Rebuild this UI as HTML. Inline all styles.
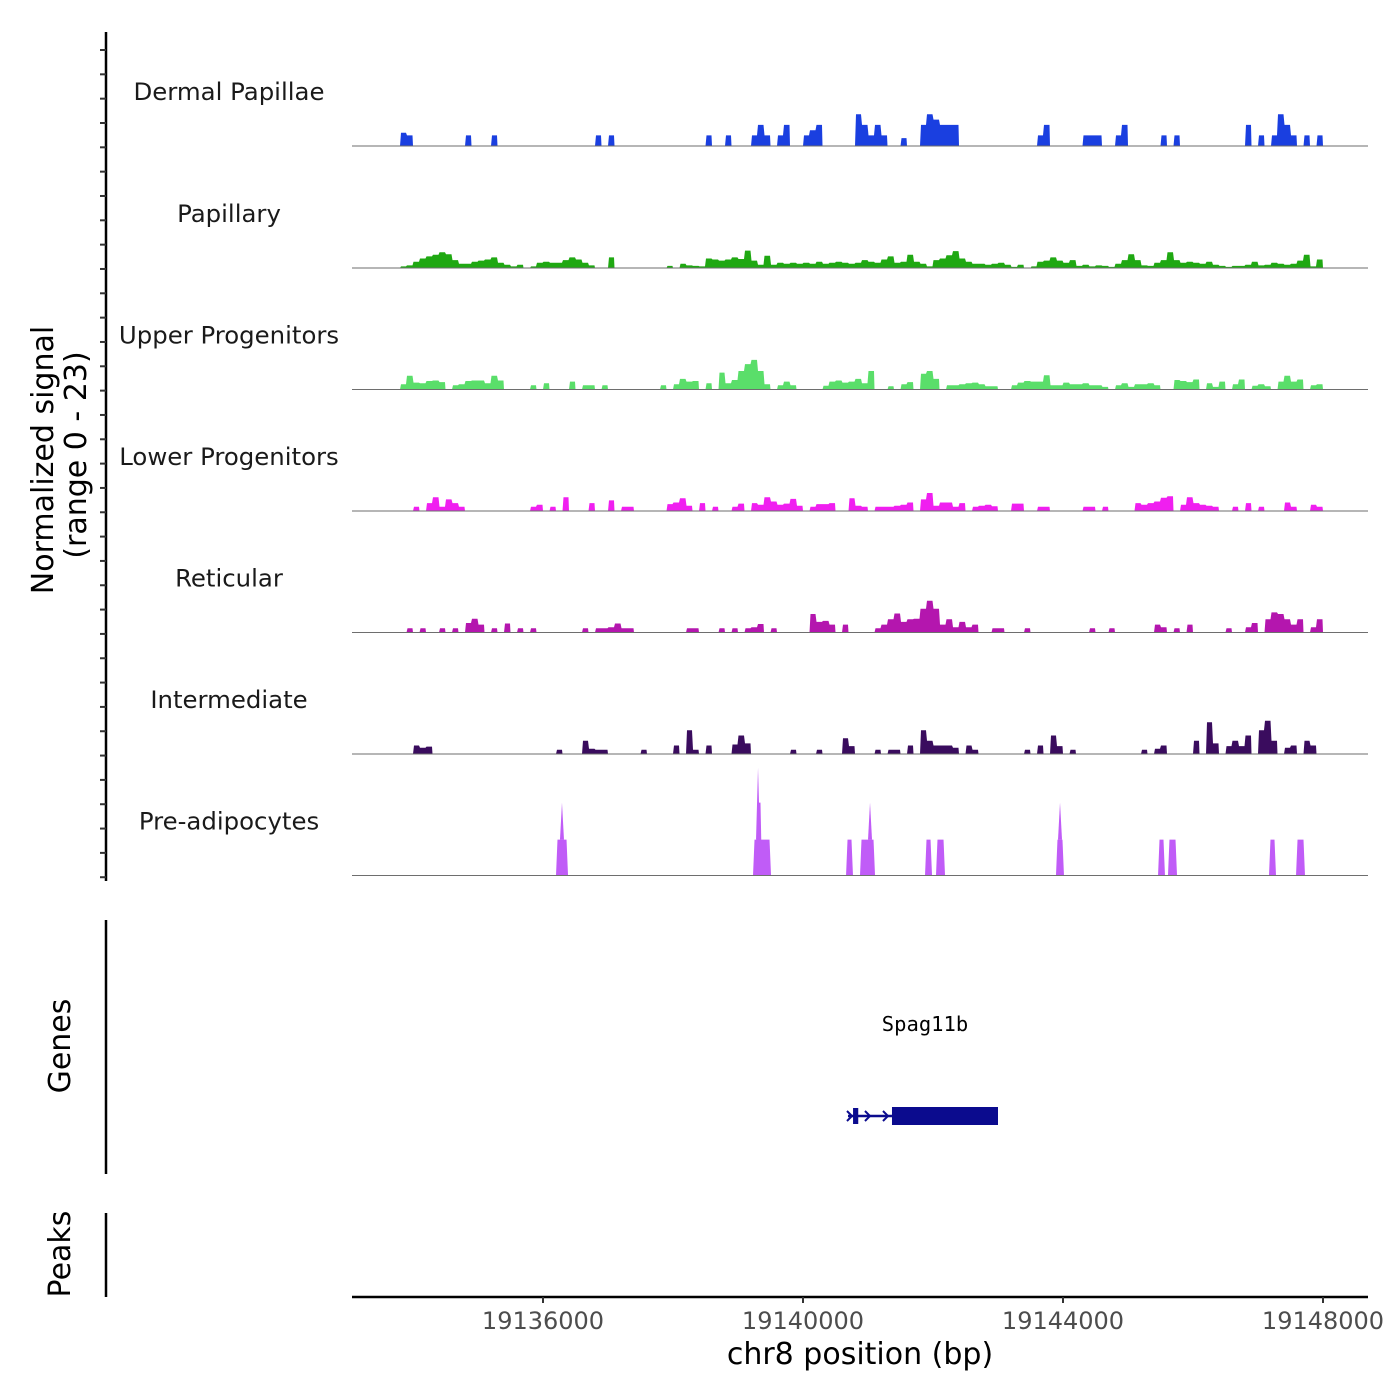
<!DOCTYPE html>
<html><head><meta charset="utf-8"><style>
html,body{margin:0;padding:0;background:#fff}
svg{display:block;font-family:"DejaVu Sans","Liberation Sans",sans-serif}
</style></head><body>
<svg id="chart" width="1400" height="1400" viewBox="0 0 1400 1400">
<g id="tracks"></g>
<g id="axes"></g>
</svg>
<script>
// ---- data ----
const trackNames = ["Dermal Papillae","Papillary","Upper Progenitors","Lower Progenitors","Reticular","Intermediate","Pre-adipocytes"];
const trackColors = ["#1a3fe0","#1fa812","#5ade6a","#f01ff0","#b416ae","#3a0c5e","#c05cf7"];
const binStart = 19133800;
const binSize = 100;
const xTicks = [19136000,19140000,19144000,19148000];
const yMax = 23;
const dermalPapillae = [2.5,2,0,0,0,0,0,0,0,0,2,0,0,0,2,0,0,0,0,0,0,0,0,0,0,0,0,0,0,0,2,0,2,0,0,0,0,0,0,0,0,0,0,0,0,0,0,2,0,0,2,0,0,0,2,4,2,0,2,4,0,0,2,3,4,0,0,0,0,0,6,4,2,4,2,0,0,1.5,0,0,4,6,5,4,4,4,0,0,0,0,0,0,0,0,0,0,0,0,2,4,0,0,0,0,0,2,2,2,0,0,2,4,0,0,0,0,0,2,0,2,0,0,0,0,0,0,0,0,0,0,4,0,2,0,2,6,4,2,0,2,0,2];
const papillary = [0.3,0.5,1.2,1.8,2.2,2.5,3.0,2.6,1.5,0.8,0.8,1.2,1.4,1.6,2.0,1.0,0.6,0.3,0.6,0,0.3,1.0,1.2,1.0,1.0,1.5,2.0,1.6,1.0,0.5,0,0,2.0,0,0,0,0,0,0,0,0,0.4,0,0.8,0.5,0.4,0.3,1.8,1.6,1.4,1.6,2.0,1.7,3.3,1.4,0.6,2.3,0.6,1.0,0.8,1.0,0.8,1.0,0.8,1.2,0.8,1.0,1.2,1.0,0.8,1.0,1.5,1.2,1.0,1.6,2.2,1.0,1.2,2.5,1.2,0.8,0.3,1.5,1.8,2.4,3.2,1.8,1.2,0.8,0.8,0.6,0.8,1.0,0.6,0.2,0.6,0,0.3,1.2,1.4,2.0,1.4,1.0,1.5,0.4,0.6,0.3,0.5,0.4,0.2,0.8,1.5,2.6,1.5,0.5,0.4,1.0,1.5,3.0,1.5,1.0,1.2,1.0,0.8,1.2,0.6,0.4,0.2,0.4,0.4,0.6,1.2,0.5,0.6,1.0,0.8,0.6,0.8,1.4,2.5,0.3,1.6];
const upperProgenitors = [1.0,2.6,1.3,1.2,1.6,1.7,1.4,0,0.8,1.0,1.6,1.7,1.7,1.2,2.6,1.7,0,0,0,0,0.8,0,1.2,0,0,0,1.5,0,0.8,0.8,0,0.8,0,0,0,0,0,0,0,0,0.8,0,1.0,2.0,1.5,1.6,0,1.2,0,3.2,1.2,1.8,3.5,4.8,5.6,3.5,1.0,0,0.8,1.5,0.8,0,0,0,0,0.7,1.5,1.7,1.3,1.5,2.0,1.2,3.5,0,0,0.6,0,1.0,1.4,0,3.0,3.5,2.0,0,0.8,0.8,1.0,1.2,1.3,1.0,0.6,0.6,0,0,0.8,1.3,1.6,1.5,1.5,2.7,0.8,0.8,1.3,1.0,1.0,1.2,0.8,0.8,0.5,0,0.8,1.2,0.5,1.0,1.0,1.2,0.8,0,0,1.8,1.6,1.4,1.9,0,1.2,0.5,1.5,0,1.0,1.9,0,0.7,1.0,0.6,0,1.5,2.6,1.5,1.9,0,0.8,1.0];
const lowerProgenitors = [0,0,0.8,0,1.5,2.6,0.8,2.2,1.5,0.8,0,0,0,0,0,0,0,0,0,0,0.8,1.2,0,0.8,0,2.6,0,0,0,1.5,0,0,2.0,0,0.8,0.8,0,0,0,0,0,1.3,1.6,2.4,1.0,0,1.5,0,0.8,0,0,0.8,1.4,0,1.5,1.2,2.6,1.8,1.2,1.4,2.3,1.0,0,0.8,1.3,1.3,1.5,0,0,2.4,1.0,0.8,0,0.8,0.8,0.8,1.0,1.2,1.6,0,2.2,3.4,1.0,1.6,1.6,0.8,1.5,0,0.8,1.0,1.2,0.9,0,0,1.4,1.4,0,0,0.8,0.8,0,0,0,0,0,0.8,0.8,0,0.8,0,0,0,0,1.5,1.2,1.5,1.8,2.5,2.8,0,1.2,2.6,1.5,1.2,1.0,0.8,0,0,0.8,0,1.5,0,0.8,0,0,0,1.6,0.8,0,0,1.2,0.8];
const reticular = [0,0.8,0,0.8,0,0,0.8,0,0.8,0,1.8,2.6,1.5,0,0.8,0,1.7,0,0.8,0,0.8,0,0,0,0,0,0,0,0.8,0,0.8,0.8,1.0,1.7,0.8,0.8,0,0,0,0,0,0,0,0,0.8,0.8,0,0,0,0.8,0,0.8,0,0.8,1.0,1.6,0,0.8,0,0,0,0,0,3.5,2.0,2.2,1.5,0,1.5,0,0,0,0,0.8,1.5,2.5,3.6,2.0,2.5,2.6,4.5,6.0,4.5,1.5,2.5,1.0,2.0,1.0,1.5,0,0,0.8,0.8,0,0,0,0.8,0,0,0,0,0,0,0,0,0,0.8,0,0,0.8,0,0,0,0,0,0,1.5,1.0,0,0.8,0,1.5,0,0,0,0,0,0.8,0,0,1.0,1.8,0,2.5,3.8,3.5,2.5,1.5,2.5,0,1.0,2.5];
const intermediate = [0,0,1.6,1.2,1.4,0,0,0,0,0,0,0,0,0,0,0,0,0,0,0,0,0,0,0,0.8,0,0,0,2.5,1.0,0.8,0.8,0,0,0,0,0,0.8,0,0,0,0,1.6,0,4.5,0.8,0,1.6,0,0,0,1.8,3.5,2.0,0,0,0,0,0,0,0.8,0,0,0,0.8,0,0,0,3.0,1.5,0,0,0,0.8,0,0.8,0.8,0,1.6,0,4.5,2.5,1.6,1.6,1.6,1.2,0,1.6,0.8,0,0,0,0,0,0,0,0.8,0,1.6,0,3.5,1.5,0,0.8,0,0,0,0,0,0,0,0,0,0,0.8,0,1.0,1.6,0,0,0,0,2.5,0,6.0,2.0,0,1.5,2.5,1.5,3.5,0,4.5,6.3,2.5,0,1.2,1.6,0,2.5,1.6,0];
const preAdipStart = [19136200,19139231,19139277,19140662,19140877,19141877,19142046,19143892,19145462,19145615,19147169,19147585];
const preAdipEnd   = [19136385,19139508,19139369,19140769,19141108,19141985,19142185,19144015,19145569,19145754,19147277,19147723];
const preAdipVal   = [6.8,6.8,13.8,6.8,6.8,6.8,6.8,6.8,6.8,6.8,6.8,6.8];
const spikePos = [19136292,19139308,19141031,19143954];
const spikeVal = [13.8,20.4,13.8,13.8];
const geneName = "Spag11b";
const geneTxStart = 19140692, geneCdsStart = 19141369, geneTxEnd = 19143000;
const geneExonStart = [19140770,19141369];
const geneExonEnd   = [19140850,19143000];

// ---- scales ----
const NS="http://www.w3.org/2000/svg";
const X0=352,X1=1368;
function xs(bp){return 543+(bp-19136000)*0.065;}
const baselines=[146,268,389.5,511,632.5,754,875.5];
const trackH=121.5;
function ys(v,i){return baselines[i]-v/yMax*trackH;}
function mk(tag,attrs,parent){const e=document.createElementNS(NS,tag);for(const k in attrs)e.setAttribute(k,attrs[k]);parent.appendChild(e);return e;}
const gT=document.getElementById('tracks'), gA=document.getElementById('axes');
const series=[dermalPapillae,papillary,upperProgenitors,lowerProgenitors,reticular,intermediate];

series.forEach((arr,i)=>{
  let d="";let open=false;
  for(let b=0;b<arr.length;b++){
    const v=arr[b];const xa=xs(binStart+b*binSize), xb=xs(binStart+(b+1)*binSize);
    if(v>0){
      if(!open){d+=`M${xa.toFixed(1)},${baselines[i]}L${(xa+1).toFixed(1)},${ys(v,i).toFixed(1)}`;open=true;}
      else d+=`L${(xa+0.5).toFixed(1)},${ys(v,i).toFixed(1)}`;
      d+=`L${(xb-0.5).toFixed(1)},${ys(v,i).toFixed(1)}`;
    } else if(open){d+=`L${xa.toFixed(1)},${baselines[i]}Z`;open=false;}
  }
  if(open)d+=`L${xs(binStart+arr.length*binSize).toFixed(1)},${baselines[i]}Z`;
  const p=mk('path',{d:d,fill:trackColors[i]},gT);
  
  
});
// pre-adipocytes
(function(){
  const i=6;const g=mk('g',{fill:trackColors[6]},gT);
  
  
  preAdipStart.forEach((s,k)=>{
    const xa=xs(s),xb=xs(preAdipEnd[k]),y=ys(preAdipVal[k],i);
    const p=mk('polygon',{points:`${xa},${baselines[i]} ${xa+1.5},${y} ${xb-1.5},${y} ${xb},${baselines[i]}`},g);
    
    
  });
  spikePos.forEach((s,k)=>{
    const x=xs(s);
    const p=mk('polygon',{points:`${x-2},${ys(6.8,i)} ${x},${ys(spikeVal[k],i)} ${x+2},${ys(6.8,i)}`},g);
    
    
  });
})();
// baselines & labels
trackNames.forEach((n,i)=>{
  const l=mk('line',{x1:X0,x2:X1,y1:baselines[i],y2:baselines[i],stroke:'#6e6e6e','stroke-width':1},gT);
  
  
  const t=mk('text',{x:229,y:baselines[i]-46,'text-anchor':'middle','font-size':24.4,fill:'#1a1a1a'},gT);
  t.textContent=n;
  
  
});
// left axes
function vline(x,y1,y2,name){const l=mk('line',{x1:x,x2:x,y1:y1,y2:y2,stroke:'#000','stroke-width':2.5},gA);}
vline(106,32,881,'signal-axis-line');
for(let k=0;k<35;k++){
  const y=50+k*24.33;
  const l=mk('line',{x1:100,x2:106,y1:y,y2:y,stroke:'#333','stroke-width':2},gA);
  
  
}
vline(106,920,1174,'genes-axis-line');
vline(106,1213,1297,'peaks-axis-line');
function rtext(x,y,s,size,name){const t=mk('text',{x:x,y:y,'text-anchor':'middle','font-size':size,fill:'#000',transform:`rotate(-90 ${x} ${y})`},gA);t.textContent=s;}
rtext(53,460,'Normalized signal',30,'y-axis-title');
rtext(86,455,'(range 0 - 23)',30,'y-axis-range');
rtext(70,1046,'Genes',30,'genes-axis-title');
rtext(70,1254,'Peaks',30,'peaks-axis-title');
// gene
(function(){
  const g=mk('g',{},gA);
  const t=mk('text',{x:925,y:1031,'text-anchor':'middle','font-size':20.5,'font-family':'"DejaVu Sans Mono","Liberation Mono",monospace',fill:'#000'},g);
  t.textContent=geneName;
  const c='#0b0b8e';
  const ln=mk('line',{x1:xs(geneTxStart),x2:xs(geneCdsStart),y1:1116,y2:1116,stroke:c,'stroke-width':2.5},g);
  
  geneExonStart.forEach((s,k)=>{
    const big=k>0;
    const r=mk('rect',{x:xs(s),y:big?1107:1108,width:xs(geneExonEnd[k])-xs(s),height:big?18:16,fill:c},g);
    
  });
  [xs(geneTxStart)+2,xs(geneTxStart)+20,xs(geneTxStart)+38].forEach(x=>{
    const a=mk('path',{d:`M${x-3},${1111}L${x+2},${1116}L${x-3},${1121}`,fill:'none',stroke:c,'stroke-width':2},g);
    
  });
})();
// x axis
const xl=mk('line',{x1:X0,x2:X1,y1:1297,y2:1297,stroke:'#000','stroke-width':2.5},gA);

xTicks.forEach(v=>{
  const x=xs(v);
  const l=mk('line',{x1:x,x2:x,y1:1297,y2:1303,stroke:'#333','stroke-width':2},gA);
  
  const t=mk('text',{x:x,y:1329,'text-anchor':'middle','font-size':24,fill:'#4d4d4d'},gA);
  t.textContent=String(v);
});
const xt=mk('text',{x:860,y:1364,'text-anchor':'middle','font-size':30,fill:'#000'},gA);
xt.textContent='chr8 position (bp)';


</script>
</body></html>
